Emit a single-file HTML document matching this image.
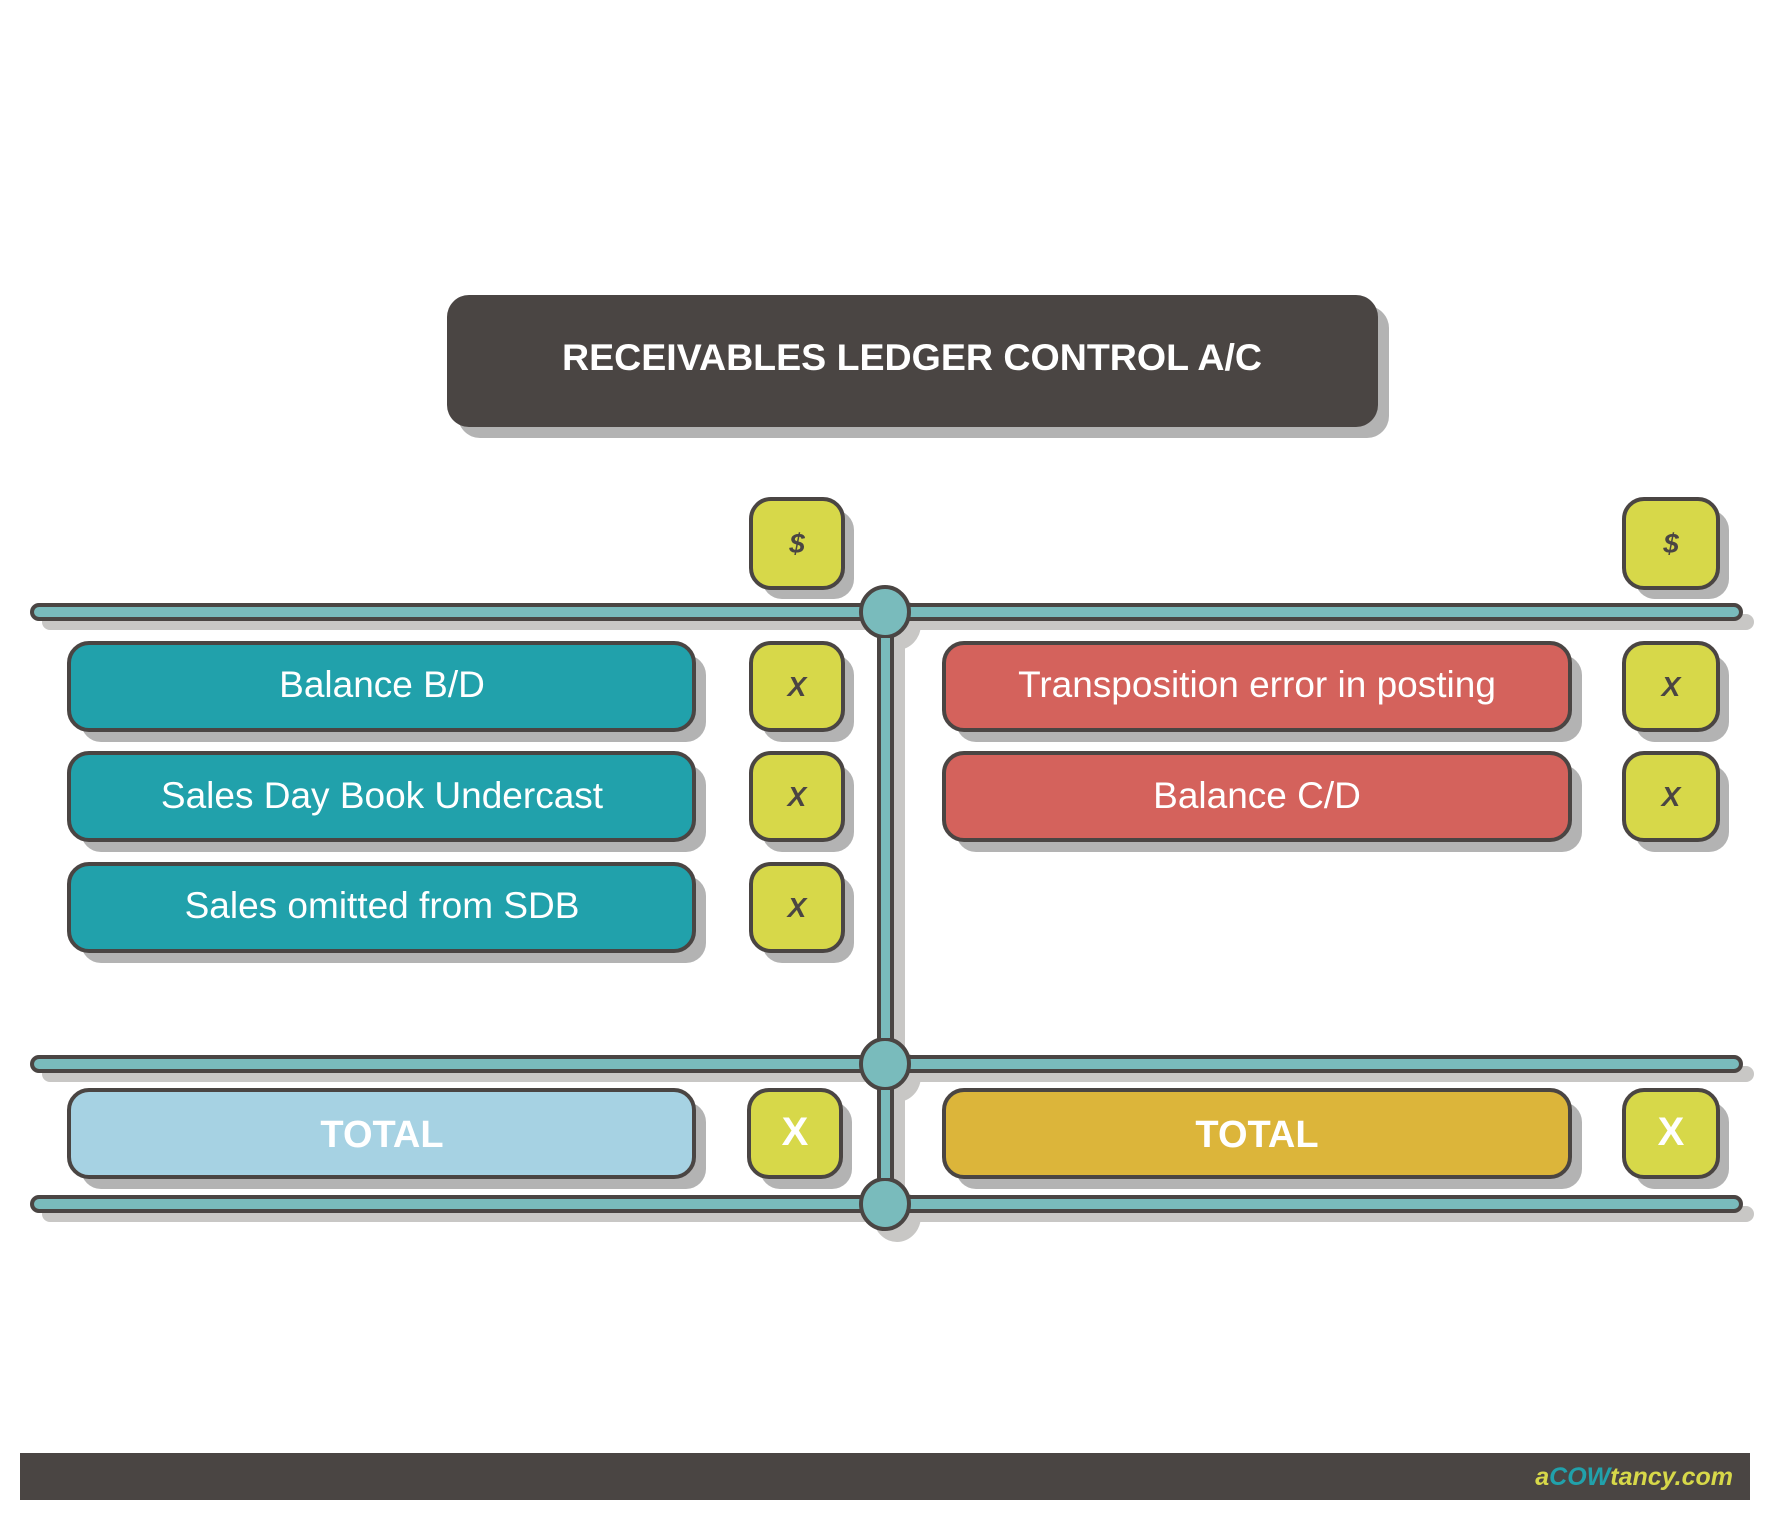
<!DOCTYPE html>
<html><head><meta charset="utf-8"><style>
html,body{margin:0;padding:0;background:#fff}
svg{display:block}
text{font-family:"Liberation Sans",sans-serif}
</style></head><body>
<svg width="1771" height="1521" viewBox="0 0 1771 1521" xmlns="http://www.w3.org/2000/svg">
<defs>
<g id="sh"></g>
</defs>
<!-- Title -->
<rect x="458" y="306" width="931" height="132" rx="22" fill="#b3b3b3"/>
<rect x="447" y="295" width="931" height="132" rx="22" fill="#4a4543"/>
<text x="912" y="370" font-size="37" font-weight="bold" fill="#fff" text-anchor="middle" textLength="700" lengthAdjust="spacingAndGlyphs">RECEIVABLES LEDGER CONTROL A/C</text>

<!-- Rail shadows -->
<rect x="42" y="614" width="1712" height="16" rx="8" fill="#c8c7c5"/>
<rect x="42" y="1066" width="1712" height="16" rx="8" fill="#c8c7c5"/>
<rect x="42" y="1206" width="1712" height="16" rx="8" fill="#c8c7c5"/>
<rect x="891" y="620" width="14" height="590" fill="#c8c7c5"/>
<ellipse cx="897" cy="624" rx="24" ry="26" fill="#c8c7c5"/>
<ellipse cx="897" cy="1076" rx="24" ry="26" fill="#c8c7c5"/>
<ellipse cx="897" cy="1216" rx="24" ry="26" fill="#c8c7c5"/>

<!-- Rails -->
<g fill="#79bbbc" stroke="#4a4543" stroke-width="4">
<rect x="32" y="605" width="1709" height="14" rx="7"/>
<rect x="32" y="1057" width="1709" height="14" rx="7"/>
<rect x="32" y="1197" width="1709" height="14" rx="7"/>
<rect x="879" y="612" width="13" height="592"/>
<ellipse cx="885" cy="612" rx="24" ry="25"/>
<ellipse cx="885" cy="1064" rx="24" ry="25"/>
<ellipse cx="885" cy="1204" rx="24" ry="25"/>
</g>
<rect x="881" y="638" width="9" height="400" fill="#79bbbc"/>
<rect x="881" y="1090" width="9" height="88" fill="#79bbbc"/>

<!-- Boxes shadows -->
<g fill="#b3b3b3">
<rect x="81" y="655" width="625" height="87" rx="20"/>
<rect x="81" y="765" width="625" height="87" rx="20"/>
<rect x="81" y="876" width="625" height="87" rx="20"/>
<rect x="81" y="1102" width="625" height="87" rx="20"/>
<rect x="956" y="655" width="626" height="87" rx="20"/>
<rect x="956" y="765" width="626" height="87" rx="20"/>
<rect x="956" y="1102" width="626" height="87" rx="20"/>
<rect x="762" y="510" width="92" height="89" rx="20"/>
<rect x="762" y="655" width="92" height="87" rx="20"/>
<rect x="762" y="765" width="92" height="87" rx="20"/>
<rect x="762" y="876" width="92" height="87" rx="20"/>
<rect x="760" y="1102" width="92" height="87" rx="20"/>
<rect x="1635" y="510" width="94" height="89" rx="20"/>
<rect x="1635" y="655" width="94" height="87" rx="20"/>
<rect x="1635" y="765" width="94" height="87" rx="20"/>
<rect x="1635" y="1102" width="94" height="87" rx="20"/>
</g>
<g stroke="#4a4543" stroke-width="4">
<rect x="69" y="643" width="625" height="87" rx="20" fill="#21a1ab"/>
<rect x="69" y="753" width="625" height="87" rx="20" fill="#21a1ab"/>
<rect x="69" y="864" width="625" height="87" rx="20" fill="#21a1ab"/>
<rect x="69" y="1090" width="625" height="87" rx="20" fill="#a6d2e3"/>
<rect x="944" y="643" width="626" height="87" rx="20" fill="#d4625c"/>
<rect x="944" y="753" width="626" height="87" rx="20" fill="#d4625c"/>
<rect x="944" y="1090" width="626" height="87" rx="20" fill="#dcb53a"/>
<g fill="#d7d849">
<rect x="751" y="499" width="92" height="89" rx="20"/>
<rect x="751" y="643" width="92" height="87" rx="20"/>
<rect x="751" y="753" width="92" height="87" rx="20"/>
<rect x="751" y="864" width="92" height="87" rx="20"/>
<rect x="749" y="1090" width="92" height="87" rx="20"/>
<rect x="1624" y="499" width="94" height="89" rx="20"/>
<rect x="1624" y="643" width="94" height="87" rx="20"/>
<rect x="1624" y="753" width="94" height="87" rx="20"/>
<rect x="1624" y="1090" width="94" height="87" rx="20"/>
</g>
</g>

<g fill="#fff" font-size="37" text-anchor="middle">
<text x="382" y="697">Balance B/D</text>
<text x="382" y="808">Sales Day Book Undercast</text>
<text x="382" y="918">Sales omitted from SDB</text>
<text x="1257" y="697">Transposition error in posting</text>
<text x="1257" y="808">Balance C/D</text>
<text x="382" y="1147" font-weight="bold" font-size="38">TOTAL</text>
<text x="1257" y="1147" font-weight="bold" font-size="38">TOTAL</text>
<text x="795" y="1145" font-weight="bold" font-size="40">X</text>
<text x="1671" y="1145" font-weight="bold" font-size="40">X</text>
</g>
<g fill="#4a4543" font-size="28" font-weight="bold" font-style="italic" text-anchor="middle">
<text x="797" y="553">$</text>
<text x="1671" y="553">$</text>
<text x="797" y="696">X</text>
<text x="797" y="806">X</text>
<text x="797" y="917">X</text>
<text x="1671" y="696">X</text>
<text x="1671" y="806">X</text>
</g>

<!-- Footer -->
<rect x="20" y="1453" width="1730" height="47" fill="#4a4543"/>
<text x="1733" y="1485" font-size="25" font-weight="bold" font-style="italic" text-anchor="end"><tspan fill="#d7d849">a</tspan><tspan fill="#21a1ab">COW</tspan><tspan fill="#d7d849">tancy.com</tspan></text>
</svg>
</body></html>
